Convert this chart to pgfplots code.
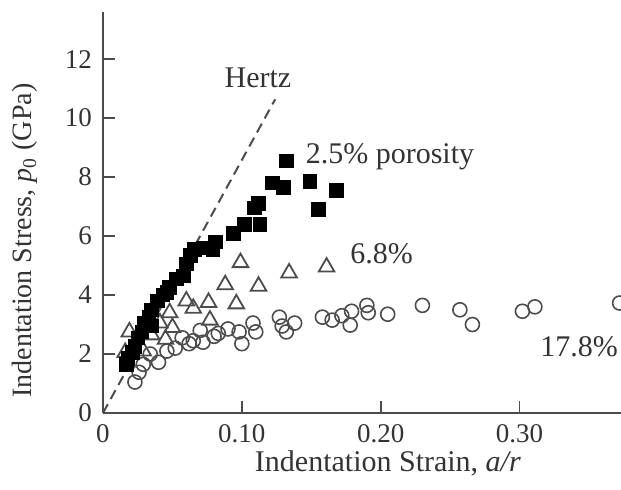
\documentclass[border=0pt]{standalone}
\usepackage{fontspec}
\setmainfont{Liberation Serif}
\usepackage{pgfplots}
\pgfplotsset{compat=1.18}

\begin{document}
\begin{tikzpicture}[font=\fontsize{15}{17}\selectfont, text=black!80]
  \begin{axis}[
      name=ax,
      scale only axis,
      width=259pt, height=200.5pt,
      xmin=0, xmax=0.373,
      ymin=0, ymax=13.6,
      axis x line=bottom, axis y line=left,
      axis line style={-, line width=1pt, black!70},
      tick align=inside,
      major tick length=6pt,
      tick style={black!70, line width=0.8pt},
      xtick={0,0.1,0.2,0.3},
      xticklabels={0,0.10,0.20,0.30},
      ytick={0,2,...,12},
      /pgf/number format/assume math mode=true,
      ticklabel style={font=\fontsize{13.5}{15}\selectfont},
      yticklabel style={xshift=-2pt},
      xticklabel style={yshift=-2pt},
      xlabel={Indentation Strain, \textit{a/r}},
      xlabel style={at={(axis description cs:0.55,0)}, anchor=center, yshift=-25pt},
      ylabel={Indentation Stress, \textit{p}\textsubscript{0} (GPa)},
      ylabel style={at={(axis description cs:0,0.43)}, anchor=center, yshift=39pt,
                    font=\fontsize{14}{16}\selectfont},
    ]

    % Hertz prediction
    \addplot[black!70, line width=1pt, dash pattern=on 5pt off 3pt]
      coordinates {(0,0) (0.124,10.64)};

    % 17.8% porosity
    \addplot[only marks, mark=o, mark size=3.5pt,
             mark options={draw=black!70, line width=0.8pt}]
      coordinates {
        (0.023,1.05) (0.026,1.38) (0.029,1.65) (0.034,2.0) (0.040,1.72)
        (0.046,2.1) (0.052,2.2) (0.057,2.55) (0.062,2.35) (0.065,2.45)
        (0.070,2.8) (0.072,2.4) (0.080,2.6) (0.083,2.7) (0.090,2.85)
        (0.098,2.75) (0.100,2.35) (0.108,3.05) (0.110,2.75) (0.127,3.25)
        (0.129,2.95) (0.132,2.75) (0.138,3.05) (0.158,3.25) (0.165,3.15)
        (0.172,3.3) (0.178,2.98) (0.179,3.45) (0.190,3.65) (0.191,3.4)
        (0.205,3.35) (0.230,3.65) (0.257,3.5) (0.266,3.0) (0.302,3.45)
        (0.311,3.6) (0.372,3.73)
      };

    % 6.8% porosity
    \addplot[only marks, mark=triangle, mark size=4.5pt,
             mark options={draw=black!70, line width=0.9pt}]
      coordinates {
        (0.016,2.05) (0.019,2.75) (0.029,2.1) (0.035,2.65) (0.041,3.05)
        (0.045,2.5) (0.048,3.4) (0.050,2.9) (0.060,3.8) (0.065,3.55)
        (0.076,3.75) (0.077,3.15) (0.088,4.35) (0.096,3.7) (0.099,5.1)
        (0.112,4.3) (0.134,4.75) (0.161,4.95)
      };

    % 2.5% porosity
    \addplot[only marks, mark=square*, mark size=3.4pt,
             mark options={draw=black, fill=black}]
      coordinates {
        (0.017,1.65) (0.018,1.85) (0.021,2.05) (0.023,2.25) (0.025,2.55)
        (0.028,2.75) (0.030,3.05) (0.035,2.95) (0.033,3.25) (0.035,3.5)
        (0.039,3.8) (0.043,4.0) (0.046,4.1) (0.048,4.25) (0.053,4.55)
        (0.058,4.65) (0.060,5.05) (0.063,5.35) (0.066,5.55) (0.072,5.6)
        (0.079,5.55) (0.081,5.8) (0.094,6.1) (0.102,6.4) (0.113,6.4)
        (0.109,6.95) (0.112,7.1) (0.122,7.8) (0.130,7.65) (0.132,8.55)
        (0.149,7.85) (0.155,6.9) (0.168,7.55)
      };

    \node at (axis cs:0.1116,11.36) {Hertz};
    \node[anchor=west] at (axis cs:0.141,8.7) {2.5\% porosity};
    \node[anchor=west] at (axis cs:0.173,5.39) {6.8\%};
    \node[anchor=east, inner sep=0pt] at (axis cs:0.371,2.24) {17.8\%};
  \end{axis}
  \pgfresetboundingbox
  \path[use as bounding box] (ax.south west) ++(-51.5pt,-38.5pt) rectangle ++(310.5pt,245pt);
\end{tikzpicture}
\end{document}
